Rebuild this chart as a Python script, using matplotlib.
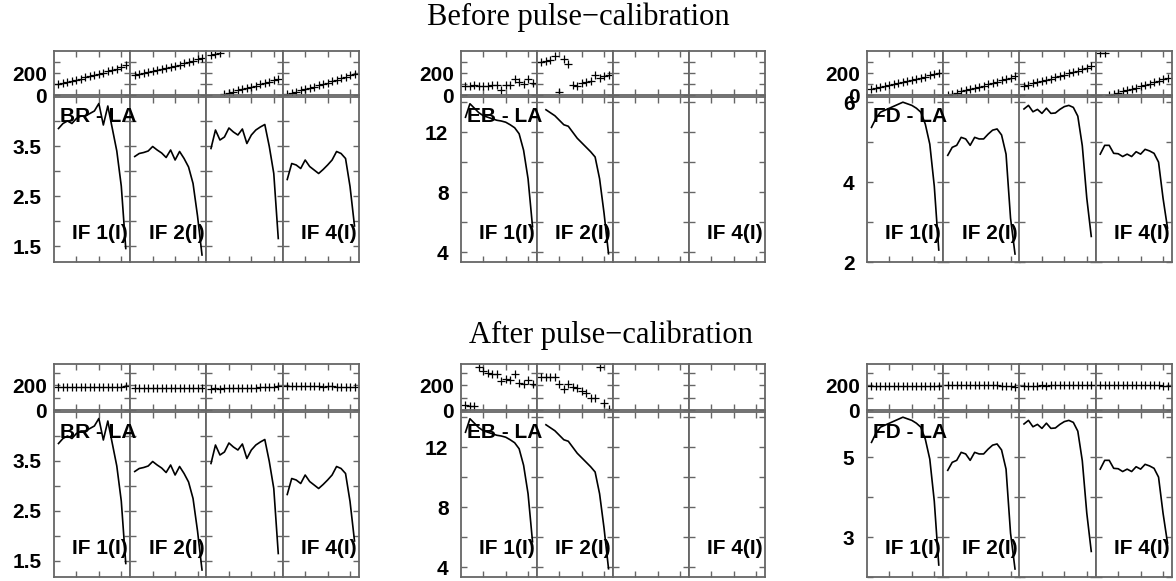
import numpy as np
import matplotlib.pyplot as plt

W, H = 1176, 581

channels = np.arange(1, 17)
if_labels = ["IF 1(I)", "IF 2(I)", "", "IF 4(I)"]
titles = ["Before pulse\u2212calibration", "After pulse\u2212calibration"]
baselines = ["BR - LA", "EB - LA", "FD - LA"]

# amplitudes (same before / after calibration)
br_amp = [
    [3.85, 3.95, 4.0, 3.95, 4.05, 4.1, 4.1, 4.15, 4.2, 4.35, 3.92, 4.3, 3.85, 3.4, 2.7, 1.45],
    [3.29, 3.35, 3.37, 3.40, 3.49, 3.42, 3.36, 3.27, 3.42, 3.22, 3.39, 3.25, 3.08, 2.75, 2.1, 1.32],
    [3.45, 3.82, 3.62, 3.68, 3.86, 3.78, 3.72, 3.84, 3.55, 3.72, 3.82, 3.88, 3.93, 3.49, 2.95, 1.65],
    [2.83, 3.15, 3.12, 3.05, 3.22, 3.09, 3.02, 2.95, 3.03, 3.12, 3.22, 3.39, 3.35, 3.25, 2.69, 1.9],
]
eb_amp = [
    [13.0, 13.9, 13.6, 13.3, 13.1, 13.0, 12.9, 12.8, 12.75, 12.67, 12.5, 12.3, 11.9, 10.8, 8.9, 5.7],
    [np.nan, 13.5, 13.3, 13.1, 12.8, 12.5, 12.4, 12.0, 11.6, 11.3, 11.0, 10.7, 10.35, 8.9, 6.6, 3.9],
    [],
    [],
]
fd_amp = [
    [5.37, 5.6, 5.75, 5.8, 5.85, 5.9, 5.95, 6.0, 5.96, 5.92, 5.85, 5.75, 5.45, 4.95, 3.9, 2.3],
    [4.67, 4.87, 4.92, 5.12, 5.08, 4.92, 5.12, 5.08, 5.08, 5.2, 5.3, 5.33, 5.18, 4.7, 3.1, 2.2],
    [5.83, 5.92, 5.76, 5.82, 5.72, 5.85, 5.72, 5.73, 5.82, 5.89, 5.92, 5.87, 5.65, 4.91, 3.6, 2.64],
    [4.7, 4.92, 4.92, 4.72, 4.71, 4.64, 4.7, 4.64, 4.76, 4.7, 4.82, 4.78, 4.72, 4.5, 3.6, 2.85],
]

# phases before calibration
br_phase_before = [
    [100, 110, 120, 130, 140, 150, 160, 170, 181, 192, 203, 215, 227, 240, 255, 272],
    [178, 187, 196, 205, 215, 224, 234, 244, 254, 265, 276, 287, 299, 311, 325, 340],
    [365, 373, 382, 10, 20, 31, 42, 53, 64, 75, 86, 97, 109, 121, 134, 150],
    [5, 17, 29, 41, 53, 65, 77, 89, 101, 113, 125, 138, 151, 165, 180, 195],
]
eb_phase_before = [
    [85, 86, 88, 86, 85, 86, 87, 92, 43, 90, 91, 148, 115, 100, 143, 112],
    [300, 305, 318, 355, 28, 330, 280, 91, 86, 106, 120, 129, 186, 157, 171, 186],
    [],
    [],
]
fd_phase_before = [
    [55, 64, 73, 82, 91, 100, 109, 118, 127, 137, 147, 157, 167, 178, 189, 200],
    [2, 12, 22, 32, 42, 53, 64, 75, 86, 97, 108, 120, 132, 144, 157, 172],
    [83, 94, 105, 116, 127, 138, 150, 161, 173, 185, 197, 209, 221, 234, 247, 262],
    [378, 385, 2, 12, 22, 33, 44, 55, 66, 78, 90, 102, 114, 127, 141, 158],
]

# phases after calibration
br_phase_after = [
    [185, 183, 184, 183, 185, 184, 183, 185, 184, 183, 185, 184, 183, 186, 188, 196],
    [176, 175, 176, 175, 176, 175, 176, 175, 176, 175, 176, 175, 176, 175, 176, 175],
    [172, 173, 172, 174, 173, 175, 174, 176, 178, 177, 180, 182, 184, 186, 189, 192],
    [192, 191, 192, 190, 191, 190, 191, 190, 189, 190, 191, 189, 188, 187, 185, 182],
]
eb_phase_after = [
    [40, 32, 32, 342, 315, 298, 293, 293, 235, 253, 240, 288, 219, 213, 245, 208],
    [265, 262, 262, 262, 213, 165, 213, 187, 173, 150, 133, 93, 93, 345, 55, 10],
    [],
    [],
]
fd_phase_after = [
    [196, 196, 195, 196, 196, 195, 196, 196, 195, 196, 196, 195, 196, 196, 195, 196],
    [199, 200, 201, 200, 199, 200, 201, 200, 199, 200, 199, 198, 197, 195, 190, 185],
    [196, 197, 196, 197, 198, 197, 198, 199, 198, 199, 200, 200, 201, 202, 202, 203],
    [203, 202, 202, 201, 202, 201, 200, 201, 200, 199, 200, 199, 198, 198, 197, 196],
]

FRAME = '#666666'
TICKFONT = dict(family='Liberation Sans', weight='bold', size=15)
LABELFONT = dict(family='Liberation Sans', weight='bold', size=15)


def px_axes(fig, x0, y0, x1, y1):
    # pixel box (y from the top) -> figure fraction
    return fig.add_axes([x0 / W, 1 - y1 / H, (x1 - x0) / W, (y1 - y0) / H])


def style(ax):
    for s in ax.spines.values():
        s.set_color(FRAME)
        s.set_linewidth(1.3)
    ax.tick_params(which='both', direction='in', top=True, right=True,
                   length=4, color=FRAME, width=1)
    ax.set_xlim(0, 17)
    ax.set_xticks([5, 10, 15])
    ax.set_xticklabels([])


def draw_panel(fig, x0, x1, top, mid, bot, phase, amp, pylim, ylim, yticks, ylabels, name):
    cw = (x1 - x0) / 4
    for i in range(4):
        xa = x0 + i * cw
        axp = px_axes(fig, xa, top, xa + cw, mid)
        axa = px_axes(fig, xa, mid + 2, xa + cw, bot)
        style(axp)
        style(axa)
        if len(phase[i]):
            axp.plot(channels, phase[i], ls='none', marker='+', color='k',
                     ms=6, mew=0.9)
        if len(amp[i]):
            axa.plot(channels, amp[i], color='k', lw=1.2)
        axp.set_ylim(*pylim)
        axp.set_yticks([0, 100, 200, 300])
        axa.set_ylim(*ylim)
        axa.set_yticks(yticks)
        if i == 0:
            axp.set_yticklabels(['0', '', '200', ''], fontdict=TICKFONT)
            axa.set_yticklabels(ylabels, fontdict=TICKFONT)
            axp.tick_params(axis='y', pad=5)
            axa.tick_params(axis='y', pad=9)
        else:
            axp.set_yticklabels([])
            axa.set_yticklabels([])
        if if_labels[i]:
            axa.text(0.97, 0.17, if_labels[i], transform=axa.transAxes,
                     ha='right', va='center', fontdict=LABELFONT)
    # baseline name sits on top of the neighbouring column too
    fig.text((x0 + 6) / W, 1 - (mid + 22) / H, name, ha='left', va='center',
             fontdict=LABELFONT, zorder=5)


fig = plt.figure(figsize=(W / 100, H / 100), dpi=100)

rows = [
    dict(top=51, mid=95, bot=262, pylim=(0, 400),
         phases=[br_phase_before, eb_phase_before, fd_phase_before],
         fd_labels=['2', '', '4', '', '6']),
    dict(top=364, mid=410, bot=577, pylim=(0, 370),
         phases=[br_phase_after, eb_phase_after, fd_phase_after],
         fd_labels=['', '3', '', '5', '']),
]
cols = [(54, 359), (461, 765), (867, 1172)]
amps = [br_amp, eb_amp, fd_amp]
ylims = [(1.18, 4.48), (3.35, 14.35), (2.0, 6.13)]
yticks = [[1.5, 2.0, 2.5, 3.0, 3.5, 4.0], [4, 6, 8, 10, 12, 14], [2, 3, 4, 5, 6]]
ylabel_sets = [['1.5', '', '2.5', '', '3.5', ''], ['4', '', '8', '', '12', '']]

for r, row in enumerate(rows):
    for c in range(3):
        labels = ylabel_sets[c] if c < 2 else row['fd_labels']
        draw_panel(fig, cols[c][0], cols[c][1], row['top'], row['mid'], row['bot'],
                   row['phases'][c], amps[c], row['pylim'], ylims[c], yticks[c],
                   labels, baselines[c])

fig.text(578 / W, 1 - 17 / H, titles[0], ha='center', va='center',
         family='Liberation Serif', size=22)
fig.text(611 / W, 1 - 335 / H, titles[1], ha='center', va='center',
         family='Liberation Serif', size=22)

fig.savefig('out.png', dpi=100)
